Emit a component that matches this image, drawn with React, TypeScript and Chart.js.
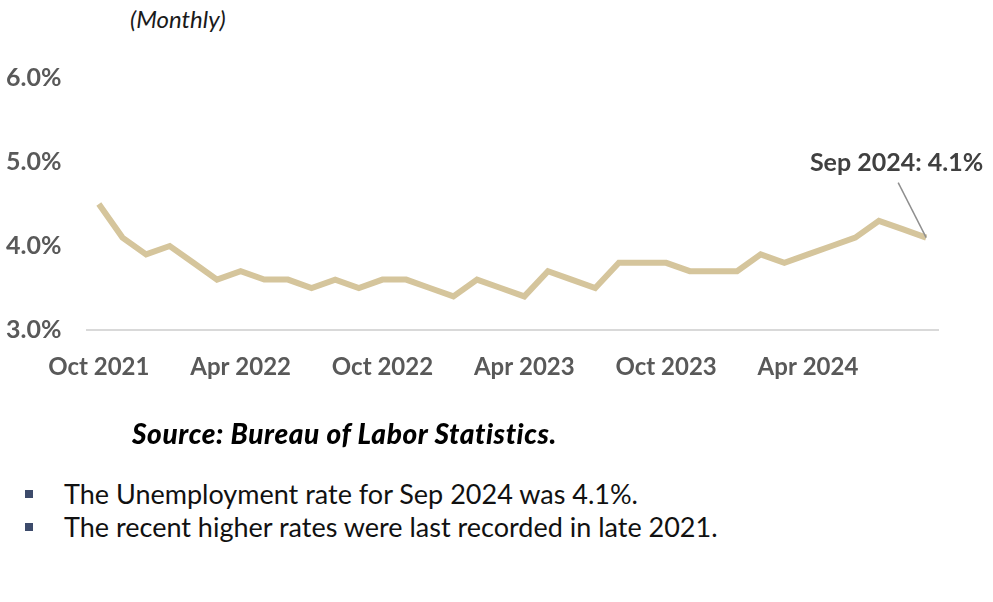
import React, { useEffect, useRef } from "react";
import { Chart, registerables } from "chart.js";

Chart.register(...registerables);

const months = [
  "Oct 2021", "Nov 2021", "Dec 2021",
  "Jan 2022", "Feb 2022", "Mar 2022", "Apr 2022", "May 2022", "Jun 2022",
  "Jul 2022", "Aug 2022", "Sep 2022", "Oct 2022", "Nov 2022", "Dec 2022",
  "Jan 2023", "Feb 2023", "Mar 2023", "Apr 2023", "May 2023", "Jun 2023",
  "Jul 2023", "Aug 2023", "Sep 2023", "Oct 2023", "Nov 2023", "Dec 2023",
  "Jan 2024", "Feb 2024", "Mar 2024", "Apr 2024", "May 2024", "Jun 2024",
  "Jul 2024", "Aug 2024", "Sep 2024",
];

const unemploymentRate = [
  4.5, 4.1, 3.9,
  4.0, 3.8, 3.6, 3.7, 3.6, 3.6, 3.5, 3.6, 3.5, 3.6, 3.6, 3.5,
  3.4, 3.6, 3.5, 3.4, 3.7, 3.6, 3.5, 3.8, 3.8, 3.8, 3.7, 3.7,
  3.7, 3.9, 3.8, 3.9, 4.0, 4.1, 4.3, 4.2, 4.1,
];

const xTickLabels = ["Oct 2021", "Apr 2022", "Oct 2022", "Apr 2023", "Oct 2023", "Apr 2024"];
const yTickValues = [3, 4, 5, 6];
const calloutLabel = "Sep 2024: 4.1%";
const subtitle = "(Monthly)";
const sourceText = "Source: Bureau of Labor Statistics.";
const bullets = [
  "The Unemployment rate for Sep 2024 was 4.1%.",
  "The recent higher rates were last recorded in late 2021.",
];

const FONT = "Lato, 'Open Sans', sans-serif";

const calloutPlugin = {
  id: "callout",
  afterDatasetsDraw(chart: any) {
    const meta = chart.getDatasetMeta(0);
    const pt = meta.data[meta.data.length - 1];
    if (!pt) return;
    const ctx = chart.ctx;
    ctx.save();
    ctx.strokeStyle = "#8f8f8f";
    ctx.lineWidth = 1.5;
    ctx.beginPath();
    ctx.moveTo(pt.x, pt.y);
    ctx.lineTo(pt.x - 28, pt.y - 55);
    ctx.stroke();
    ctx.font = `bold 25px ${FONT}`;
    ctx.fillStyle = "#404040";
    ctx.textAlign = "right";
    ctx.textBaseline = "middle";
    ctx.fillText(calloutLabel, pt.x + 57, pt.y - 75);
    ctx.restore();
  },
};

export default function App() {
  const canvasRef = useRef<HTMLCanvasElement | null>(null);

  useEffect(() => {
    if (!canvasRef.current) return;
    const chart = new Chart(canvasRef.current, {
      type: "line",
      data: {
        labels: months,
        datasets: [
          {
            data: unemploymentRate,
            borderColor: "#d5c59c",
            borderWidth: 6,
            pointRadius: 0,
            pointHoverRadius: 0,
            tension: 0,
            fill: false,
          },
        ],
      },
      options: {
        animation: false,
        responsive: false,
        devicePixelRatio: 1,
        layout: { padding: { left: 6, top: 78, right: 55, bottom: 0 } },
        plugins: {
          legend: { display: false },
          tooltip: { enabled: false },
        },
        scales: {
          x: {
            type: "category",
            offset: true,
            grid: { display: false, drawTicks: false },
            border: { display: true, color: "#d9d9d9", width: 2 },
            afterFit: (scale: any) => {
              scale.height = 90;
            },
            ticks: {
              autoSkip: false,
              maxRotation: 0,
              padding: 23,
              color: "#595959",
              font: { family: FONT, weight: "bold", size: 24 },
              callback: (_v: any, i: number) =>
                xTickLabels.includes(months[i]) ? months[i] : "",
            },
          },
          y: {
            min: 3,
            max: 6,
            grid: { display: false },
            border: { display: false },
            afterBuildTicks: (scale: any) => {
              scale.ticks = yTickValues.map((v) => ({ value: v }));
            },
            afterFit: (scale: any) => {
              scale.width = 81;
            },
            ticks: {
              crossAlign: "far",
              color: "#595959",
              font: { family: FONT, weight: "bold", size: 25 },
              callback: (v: any) => Number(v).toFixed(1) + "%",
            },
          },
        },
      },
      plugins: [calloutPlugin],
    });
    return () => chart.destroy();
  }, []);

  return (
    <div
      style={{
        position: "absolute",
        left: 0,
        top: 0,
        width: 993,
        height: 602,
        background: "#fff",
        overflow: "hidden",
        fontFamily: FONT,
      }}
    >
      <div
        style={{
          position: "absolute",
          left: 130,
          top: 5,
          lineHeight: "28px",
          fontSize: 24,
          fontStyle: "italic",
          color: "#1a1a1a",
        }}
      >
        {subtitle}
      </div>
      <canvas
        ref={canvasRef}
        width={993}
        height={420}
        style={{ position: "absolute", left: 0, top: 0, width: 993, height: 420 }}
      />
      <div
        style={{
          position: "absolute",
          left: 132,
          top: 416,
          lineHeight: "34px",
          fontSize: 28,
          fontWeight: 900,
          fontStyle: "italic",
          letterSpacing: "0.6px",
          color: "#000",
          whiteSpace: "nowrap",
        }}
      >
        {sourceText}
      </div>
      {bullets.map((b, i) => (
        <div
          key={i}
          style={{
            position: "absolute",
            left: 0,
            top: 478 + i * 33,
            height: 32,
            lineHeight: "32px",
            fontSize: 27,
            color: "#111",
            whiteSpace: "nowrap",
          }}
        >
          <span
            style={{
              position: "absolute",
              left: 25,
              top: 12,
              width: 8,
              height: 8,
              background: "#3d4b6b",
            }}
          />
          <span style={{ position: "absolute", left: 64, top: 0 }}>{b}</span>
        </div>
      ))}
    </div>
  );
}
